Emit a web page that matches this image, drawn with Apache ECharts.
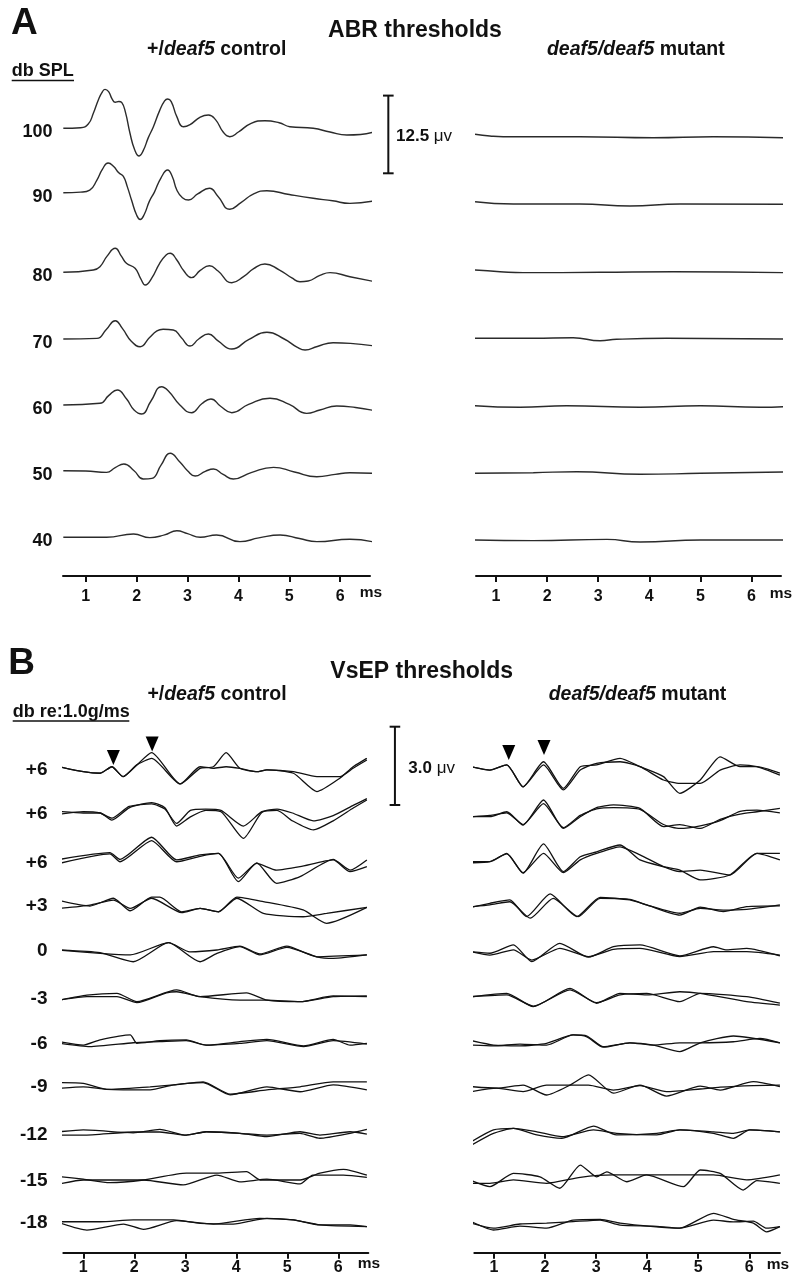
<!DOCTYPE html>
<html>
<head>
<meta charset="utf-8">
<script src="https://cdn.jsdelivr.net/npm/echarts@6/dist/echarts.min.js"></script>
<style>
html,body{margin:0;padding:0;background:#fff;}
#c{width:800px;height:1286px;}
</style>
</head>
<body>
<div id="c"></div>
<script>
// ---------------- DATA ----------------
const timeTicks = [1, 2, 3, 4, 5, 6];
const abrLevels = ['100', '90', '80', '70', '60', '50', '40'];
const vsepLevels = ['+6', '+6', '+6', '+3', '0', '-3', '-6', '-9', '-12', '-15', '-18'];
const abrScaleUv = 12.5;
const vsepScaleUv = 3.0;

// ABR control traces: [time ms, deflection µV]
const abrControl = [
  [[0.56,0],[0.9,0.1],[1.05,0.69],[1.15,2.41],[1.25,4.6],[1.33,5.9],[1.38,6.27],[1.45,5.9],[1.52,4.7],[1.58,4.18],[1.65,4.3],[1.71,4.12],[1.78,2.6],[1.87,-0.8],[1.96,-3.4],[2.05,-4.46],[2.13,-3.6],[2.23,-1.5],[2.33,0.26],[2.45,2.8],[2.55,4.4],[2.61,4.71],[2.68,4.3],[2.79,1.87],[2.92,0.26],[3.05,0.6],[3.25,1.8],[3.41,2.14],[3.55,1.4],[3.7,-0.6],[3.83,-1.35],[4.0,-0.6],[4.25,0.8],[4.52,1.22],[4.8,0.9],[5.01,0.26],[5.47,0],[5.8,-0.6],[6.13,-1.08],[6.4,-1.0],[6.68,-0.55]],
  [[0.56,0],[0.9,0.1],[1.08,0.43],[1.22,2.04],[1.33,3.8],[1.44,4.77],[1.55,4.2],[1.65,3.2],[1.74,2.61],[1.82,0.9],[1.9,-1.17],[2.0,-3.6],[2.07,-4.3],[2.15,-3.5],[2.25,-1.4],[2.35,0.1],[2.48,2.4],[2.61,3.64],[2.7,2.6],[2.79,0.43],[2.9,-0.8],[3.02,-1.18],[3.2,-0.2],[3.43,0.71],[3.6,-0.6],[3.83,-2.67],[4.05,-1.6],[4.3,-0.2],[4.56,0.32],[5.0,-0.3],[5.47,-0.9],[5.85,-1.3],[6.19,-1.72],[6.68,-1.29]],
  [[0.56,0],[1.15,0.37],[1.28,0.9],[1.42,2.6],[1.58,3.86],[1.7,2.6],[1.8,1.45],[1.97,0.64],[2.08,-1.0],[2.17,-2.04],[2.3,-0.9],[2.45,1.4],[2.58,2.8],[2.66,3.06],[2.78,2.1],[2.93,0.2],[3.08,-0.86],[3.25,0.3],[3.43,1.06],[3.6,0.2],[3.87,-1.67],[4.1,-0.7],[4.3,0.6],[4.52,1.34],[4.8,0.4],[5.05,-0.9],[5.21,-1.51],[5.37,-1.4],[5.6,-0.5],[5.8,-0.06],[6.19,-0.71],[6.68,-1.51]],
  [[0.56,0],[1.22,0.1],[1.4,1.5],[1.58,2.94],[1.72,1.7],[1.9,-0.4],[2.07,-1.24],[2.25,0.2],[2.4,1.3],[2.52,1.56],[2.72,1.45],[2.88,0.2],[3.05,-1.13],[3.22,0.0],[3.41,0.8],[3.6,-0.3],[3.87,-1.61],[4.2,-0.1],[4.56,1.08],[4.9,0.0],[5.15,-1.3],[5.31,-1.77],[5.55,-1.2],[5.86,-0.6],[6.2,-0.7],[6.68,-1.13]],
  [[0.56,0],[1.28,0.27],[1.45,1.5],[1.62,2.41],[1.8,1.0],[1.95,-0.8],[2.1,-1.45],[2.28,0.6],[2.49,2.94],[2.62,2.3],[2.85,0.0],[3.08,-1.24],[3.28,0.2],[3.46,0.97],[3.65,-0.2],[3.87,-1.24],[4.2,0.1],[4.62,1.08],[5.0,0.1],[5.34,-1.34],[5.6,-0.8],[5.93,-0.16],[6.3,-0.4],[6.68,-0.91]],
  [[0.56,0],[1.0,-0.05],[1.41,-0.27],[1.58,0.5],[1.75,1.08],[1.95,0.0],[2.13,-1.34],[2.3,-1.23],[2.48,0.9],[2.66,2.8],[2.85,1.4],[3.0,0.0],[3.15,-0.86],[3.35,-0.1],[3.51,0.27],[3.7,-0.6],[3.9,-1.34],[4.25,-0.3],[4.69,0.54],[5.1,-0.2],[5.54,-0.97],[5.9,-0.6],[6.19,-0.32],[6.68,-0.43]],
  [[0.56,0],[1.0,0],[1.41,0],[1.94,0.53],[2.26,-0.06],[2.55,0.4],[2.79,1.06],[3.0,0.6],[3.25,0],[3.57,0.37],[4.03,-0.7],[4.4,-0.1],[4.82,0.37],[5.2,-0.2],[5.54,-0.7],[6.19,-0.32],[6.68,-0.8]]
];

// ABR mutant traces
const abrMutant = [
  [[0.59,0],[0.88,-0.27],[1.14,-0.39],[2.64,-0.39],[4.08,-0.55],[5.25,-0.39],[6.62,-0.55]],
  [[0.59,0],[1.34,-0.37],[2.64,-0.37],[3.62,-0.69],[4.6,-0.37],[6.62,-0.42]],
  [[0.57,0],[1.08,-0.27],[1.53,-0.43],[3.04,-0.37],[4.47,-0.27],[6.66,-0.43]],
  [[0.57,0],[1.73,0],[2.51,0.1],[3.04,-0.39],[3.36,-0.16],[4.34,0],[6.66,-0.11]],
  [[0.57,0],[1.47,-0.26],[2.38,0],[3.82,-0.26],[5.0,0],[6.17,-0.26],[6.66,-0.16]],
  [[0.57,0],[1.73,0.1],[2.58,0.26],[3.82,-0.16],[5.0,0],[6.66,0.21]],
  [[0.57,0],[1.73,-0.1],[3.17,0.1],[3.82,-0.32],[5.0,0],[6.66,0]]
];

// VsEP control: two repeated traces per level [time ms, µV]
const vsepControl = [
  [[[0.53,0.06],[1.0,-0.13],[1.33,-0.19],[1.56,0.06],[1.78,-0.32],[2.05,0.13],[2.34,0.6],[2.9,-0.6],[3.29,0],[3.55,0.06],[3.8,0.6],[4.07,0],[4.4,-0.13],[4.6,-0.06],[5.12,-0.19],[5.58,-0.89],[6.03,-0.38],[6.29,0.06],[6.56,0.38]],
   [[0.53,0.06],[1.0,-0.13],[1.33,-0.19],[1.56,0.06],[1.78,-0.32],[2.05,0.13],[2.34,0.38],[2.9,-0.6],[3.29,0.06],[3.55,0],[3.8,0.06],[4.07,0],[4.4,-0.13],[4.6,-0.06],[5.12,-0.13],[5.58,-0.32],[6.03,-0.32],[6.29,0],[6.56,0.32]]],
  [[[0.53,0.06],[1.0,0],[1.33,0],[1.56,-0.27],[1.9,0.2],[2.34,0.4],[2.6,0.2],[2.83,-0.5],[3.1,-0.15],[3.4,0.1],[3.7,0.05],[4.14,-0.97],[4.5,0.02],[4.8,0.1],[5.1,-0.3],[5.51,-0.65],[5.9,-0.3],[6.3,0.2],[6.56,0.5]],
   [[0.53,-0.05],[1.0,0.05],[1.33,0],[1.56,-0.2],[1.9,0.25],[2.34,0.35],[2.6,0.15],[2.83,-0.4],[3.1,0.1],[3.4,0.15],[3.7,0.1],[4.14,-0.5],[4.5,0.05],[4.8,0.15],[5.1,0],[5.51,-0.3],[5.9,-0.1],[6.3,0.3],[6.56,0.55]]],
  [[[0.53,0.08],[1.52,0.34],[1.72,0.08],[2.34,0.93],[2.83,0.06],[3.29,0.25],[3.65,0.31],[4.04,-0.77],[4.4,-0.05],[4.79,-0.84],[5.25,-0.58],[5.9,0.08],[6.23,-0.33],[6.56,0.06]],
   [[0.53,-0.07],[1.52,0.29],[1.72,-0.01],[2.34,0.8],[2.83,-0.01],[3.29,0.2],[3.65,0.31],[4.04,-0.64],[4.4,-0.07],[4.79,-0.33],[5.25,-0.2],[5.9,0.06],[6.23,-0.39],[6.56,-0.2]]],
  [[[0.53,0.15],[1.13,-0.06],[1.59,0.24],[1.92,-0.24],[2.34,0.28],[2.5,0.28],[2.93,-0.28],[3.29,-0.15],[3.65,-0.28],[4.01,0.28],[4.53,0.11],[5.31,-0.21],[5.77,-0.72],[6.56,-0.11]],
   [[0.53,-0.15],[1.13,-0.02],[1.59,0.17],[1.92,-0.15],[2.34,0.24],[2.93,-0.31],[3.29,-0.15],[3.65,-0.28],[4.01,0.24],[4.53,-0.34],[5.31,-0.47],[5.77,-0.34],[6.56,-0.11]]],
  [[[0.53,0],[1.33,-0.13],[1.92,-0.19],[2.67,0.28],[3.09,-0.07],[3.62,0],[4.07,0.15],[4.46,-0.15],[4.99,0.15],[5.58,-0.26],[6.56,-0.19]],
   [[0.53,0],[1.33,-0.1],[1.98,-0.45],[2.67,0.28],[3.29,-0.45],[3.62,-0.13],[4.07,0.13],[4.46,-0.19],[4.99,0.1],[5.58,-0.26],[5.9,-0.32],[6.56,-0.19]]],
  [[[0.53,-0.08],[1.07,0.11],[1.66,0.18],[2.05,-0.14],[2.83,0.31],[3.29,0.05],[4.2,0.2],[4.6,-0.08],[5.25,-0.14],[5.9,0.08],[6.56,0.05]],
   [[0.53,-0.08],[1.07,0.05],[1.66,0.05],[2.05,-0.18],[2.63,0.2],[2.83,0.24],[3.29,0.05],[4.07,-0.08],[4.6,-0.08],[5.25,-0.14],[5.9,0.05],[6.56,0.08]]],
  [[[0.53,0.03],[1.0,-0.1],[1.33,0.1],[1.92,0.29],[2.05,-0.03],[2.5,0.07],[3.02,0.1],[3.41,-0.1],[4.07,0.03],[4.6,0.12],[5.32,-0.13],[5.9,0.12],[6.23,-0.1],[6.56,-0.03]],
   [[0.53,-0.03],[1.13,-0.16],[1.98,-0.01],[2.5,0.03],[3.02,0.07],[3.41,-0.1],[4.07,-0.03],[4.6,0.07],[5.32,-0.16],[5.9,0.07],[6.56,-0.06]]],
  [[[0.53,0.13],[1.0,0.1],[1.46,-0.13],[2.31,-0.03],[2.77,0.04],[3.35,0.16],[3.88,-0.31],[4.6,-0.15],[5.25,-0.03],[5.9,0.16],[6.56,0.16]],
   [[0.53,-0.09],[1.0,-0.03],[1.46,-0.13],[2.31,-0.15],[2.77,0.04],[3.35,0.13],[3.88,-0.34],[4.6,-0.03],[5.25,-0.22],[5.9,0.04],[6.56,-0.15]]],
  [[[0.53,0.06],[1.0,0.13],[1.98,0.02],[2.5,0.15],[3.02,-0.07],[3.41,0.06],[4.07,0],[4.6,-0.07],[5.25,0],[5.64,-0.19],[6.23,0],[6.56,0.15]],
   [[0.53,-0.07],[1.0,-0.07],[1.98,0.05],[2.5,0.05],[3.02,-0.07],[3.41,0.06],[4.07,0],[4.6,-0.13],[5.25,0.06],[5.64,-0.07],[6.23,0.06],[6.56,-0.03]]],
  [[[0.53,0.13],[1.0,0.03],[1.52,-0.1],[2.18,0],[3.02,0.26],[3.62,0.26],[4.2,0.32],[4.47,0],[5.25,0],[5.64,0.26],[6.1,0.41],[6.56,0.19]],
   [[0.53,-0.15],[1.0,0],[1.52,0],[2.18,0],[2.96,-0.19],[3.62,0.19],[4.07,-0.07],[4.6,0.03],[5.25,-0.15],[5.5,0.19],[6.1,0.19],[6.56,0.1]]],
  [[[0.53,0.01],[1.33,0.01],[1.98,0.08],[2.77,0.08],[3.29,-0.05],[3.94,-0.08],[4.6,0.14],[5.12,0.08],[5.64,-0.11],[6.56,-0.18]],
   [[0.53,-0.03],[1.07,-0.31],[1.79,-0.08],[2.18,-0.28],[2.83,0.05],[3.55,-0.08],[4.46,0.14],[5.12,0.08],[5.64,-0.11],[6.23,-0.11],[6.56,-0.18]]]
];

// VsEP mutant: two repeated traces per level
const vsepMutant = [
  [[[0.56,0],[0.92,-0.13],[1.25,0.07],[1.57,-0.77],[1.97,0.19],[2.36,-0.83],[2.69,0],[3.01,0.07],[3.47,0.32],[3.86,0],[4.32,-0.38],[4.64,-1.02],[5.04,-0.51],[5.43,0.38],[5.82,0],[6.15,0],[6.6,-0.25]],
   [[0.56,0],[0.92,-0.13],[1.25,0.07],[1.57,-0.77],[1.97,0.07],[2.36,-0.89],[2.69,-0.13],[3.01,0.13],[3.47,0.19],[3.86,0],[4.32,-0.51],[4.64,-0.64],[5.04,-0.64],[5.43,-0.13],[5.82,0.07],[6.15,0],[6.6,-0.32]]],
  [[[0.56,0],[0.92,0],[1.25,0.19],[1.57,-0.32],[1.97,0.64],[2.36,-0.45],[2.69,0],[3.01,0.35],[3.34,0.45],[3.86,0.32],[4.32,-0.38],[4.64,-0.3],[5.04,-0.45],[5.43,-0.1],[5.82,0.1],[6.15,0.19],[6.6,0.32]],
   [[0.56,0],[0.92,0.05],[1.25,0.15],[1.57,-0.3],[1.97,0.5],[2.36,-0.42],[2.69,0.05],[3.01,0.3],[3.34,0.35],[3.86,0.28],[4.32,-0.3],[4.64,-0.45],[5.04,-0.35],[5.43,-0.15],[5.82,0.2],[6.15,0.25],[6.6,0.15]]],
  [[[0.56,0],[0.92,0],[1.25,0.32],[1.57,-0.44],[1.97,0.68],[2.36,-0.38],[2.69,0.19],[3.01,0.38],[3.47,0.64],[3.86,0.07],[4.32,-0.19],[4.64,-0.32],[5.04,-0.7],[5.62,-0.51],[6.15,0.32],[6.6,0.07]],
   [[0.56,-0.04],[0.92,0],[1.25,0.3],[1.57,-0.42],[1.97,0.32],[2.36,-0.42],[2.69,0.07],[3.01,0.32],[3.47,0.57],[3.86,0.26],[4.32,-0.19],[4.64,-0.38],[5.04,-0.32],[5.62,-0.51],[6.15,0.32],[6.6,0.32]]],
  [[[0.56,-0.02],[0.92,0.13],[1.31,0.26],[1.64,-0.38],[2.1,0.49],[2.62,-0.38],[3.08,0.36],[3.66,0.26],[3.99,0.07],[4.64,-0.32],[5.04,-0.02],[5.49,-0.19],[5.95,0],[6.6,0.03]],
   [[0.56,0],[0.92,0.07],[1.31,0.19],[1.71,-0.44],[2.16,0.32],[2.65,-0.38],[3.08,0.32],[3.66,0.28],[3.99,0.07],[4.64,-0.25],[5.04,-0.06],[5.49,-0.13],[5.95,-0.1],[6.6,0.07]]],
  [[[0.56,0],[0.92,-0.06],[1.38,0.26],[1.74,-0.38],[2.29,0.32],[2.85,-0.21],[3.34,0.19],[3.86,0.26],[4.64,-0.16],[5.3,0.19],[5.56,0.07],[5.95,0.13],[6.6,-0.16]],
   [[0.56,0],[0.92,-0.13],[1.38,0.07],[1.74,-0.32],[2.29,0.13],[2.85,-0.19],[3.34,0.09],[3.86,0.13],[4.64,-0.19],[5.3,0],[5.95,0],[6.6,-0.13]]],
  [[[0.56,0],[1.25,0.13],[1.77,-0.38],[2.49,0.32],[3.01,-0.25],[3.47,0.13],[3.99,0.07],[4.64,0.19],[5.04,0.13],[5.95,-0.19],[6.6,-0.32]],
   [[0.56,0],[1.25,0.07],[1.77,-0.36],[2.49,0.26],[3.01,-0.23],[3.47,0.07],[3.99,0.13],[4.64,-0.19],[5.04,0.13],[5.95,0],[6.6,-0.25]]],
  [[[0.56,0.1],[0.99,-0.07],[1.51,-0.1],[2.03,0],[2.55,0.32],[2.82,0.28],[3.14,-0.13],[3.66,0.02],[4.12,-0.07],[4.64,-0.32],[5.04,0.02],[5.69,0.28],[6.6,0.02]],
   [[0.56,-0.07],[0.99,-0.1],[1.51,-0.03],[2.03,-0.07],[2.55,0.32],[2.82,0.25],[3.14,-0.15],[3.66,0.02],[4.12,-0.07],[4.64,0.02],[5.04,0.02],[5.69,0.06],[6.21,0.19],[6.6,0.02]]],
  [[[0.56,0.09],[1.05,0.03],[1.57,0.15],[2.03,-0.23],[2.49,0.15],[2.85,0.54],[3.34,-0.16],[3.86,0.15],[4.38,-0.27],[5.04,0.11],[5.43,-0.04],[6.08,0.28],[6.6,0.09]],
   [[0.56,-0.1],[1.05,0.03],[1.57,-0.1],[2.03,0.15],[2.49,0.15],[2.85,0.15],[3.34,-0.04],[3.86,0.13],[4.38,-0.1],[5.04,0],[5.43,0.07],[6.08,0.13],[6.6,0.15]]],
  [[[0.56,0.05],[0.99,0.5],[1.38,0.56],[1.84,0.31],[2.33,0.18],[2.95,0.65],[3.4,0.31],[4.19,0.37],[4.64,0.5],[5.3,0.37],[5.69,0.18],[6.01,0.5],[6.6,0.43]],
   [[0.56,-0.08],[0.99,0.37],[1.38,0.56],[1.84,0.43],[2.33,0.24],[2.95,0.5],[3.4,0.37],[4.19,0.31],[4.64,0.5],[5.3,0.43],[5.69,0.37],[6.01,0.5],[6.6,0.43]]],
  [[[0.56,0.05],[0.92,-0.18],[1.38,0.33],[1.9,0.2],[2.29,-0.24],[2.69,0.65],[3.01,0.2],[3.21,0.39],[3.6,0.01],[3.99,0.27],[4.71,-0.18],[5.04,0.46],[5.43,0.33],[5.88,-0.31],[6.15,0.05],[6.6,-0.05]],
   [[0.56,-0.05],[0.92,-0.05],[1.38,0.08],[2.03,-0.05],[2.69,0.18],[3.34,0.27],[3.99,0.27],[4.64,0.27],[5.3,0.27],[5.95,0.08],[6.6,0.27]]],
  [[[0.56,0.09],[0.99,-0.23],[1.51,-0.08],[2.03,-0.16],[2.55,0.15],[3.08,0.18],[3.47,0.03],[4.12,-0.1],[4.64,-0.16],[5.3,0.41],[5.69,0.18],[6.08,0.03],[6.34,-0.3],[6.6,-0.1]],
   [[0.56,0.03],[0.99,-0.16],[1.51,0],[2.03,0.03],[2.55,0.09],[3.08,0.15],[3.47,-0.04],[4.12,-0.08],[4.64,-0.16],[5.3,0.15],[5.69,0.08],[6.08,0.11],[6.34,-0.16],[6.6,-0.1]]]
];

// arrowheads over the top VsEP trace: [time ms, µV above trace baseline]
const arrowsControl = [[1.59, 0.13], [2.35, 0.64]];
const arrowsMutant = [[1.29, 0.26], [1.98, 0.45]];

// ---------------- LAYOUT ----------------
const FONT = '"Liberation Sans", Arial, Helvetica, sans-serif';
const PANEL = {
  abr:  { axisY: 576,    top: 80,  pxPerUv: 6.216, labelMargin: 12.5 },
  vsep: { axisY: 1252.7, top: 715, pxPerUv: 26.1,  labelMargin: 6.5 }
};
const PLOTS = [
  { panel: 'abr',  left: 63,    right: 370,   xMin: 0.554, xMax: 6.585, bases: [128.3,192.7,272.3,339,405,470.7,537.3] },
  { panel: 'abr',  left: 476,   right: 781,   xMin: 0.609, xMax: 6.577, bases: [134.3,201.7,270,338.3,405.7,473.3,540] },
  { panel: 'vsep', left: 63.3,  right: 368.3, xMin: 0.608, xMax: 6.588, bases: [768.3,813,861.5,904.5,950,998,1042.5,1086,1133.3,1180,1222] },
  { panel: 'vsep', left: 474.3, right: 780,   xMin: 0.615, xMax: 6.602, bases: [766.7,816.7,861.7,906.7,951.7,996.7,1043.3,1089,1143,1182,1224] }
];

const chart = echarts.init(document.getElementById('c'), null, { renderer: 'canvas' });
const grids = [], xAxes = [], yAxes = [], series = [];

PLOTS.forEach((p, i) => {
  const P = PANEL[p.panel];
  grids.push({ left: p.left, top: P.top, width: p.right - p.left, height: P.axisY - P.top, containLabel: false });
  xAxes.push({
    type: 'value', gridIndex: i, min: p.xMin, max: p.xMax,
    axisLine: { onZero: false, lineStyle: { color: '#111', width: 2 } },
    axisTick: { customValues: timeTicks, length: 6, lineStyle: { color: '#111', width: 2 } },
    axisLabel: { customValues: timeTicks, margin: P.labelMargin, fontSize: 16, fontWeight: 'bold', color: '#111', fontFamily: FONT },
    splitLine: { show: false }
  });
  yAxes.push({ type: 'value', gridIndex: i, min: 0, max: (P.axisY - P.top) / P.pxPerUv, show: false });
});

function offsetOf(plotIdx, k) {
  const p = PLOTS[plotIdx], P = PANEL[p.panel];
  return (P.axisY - p.bases[k]) / P.pxPerUv;
}
function addTrace(plotIdx, k, pts, style) {
  const off = offsetOf(plotIdx, k);
  series.push({
    type: 'line', xAxisIndex: plotIdx, yAxisIndex: plotIdx,
    data: pts.map(d => [d[0], off + d[1]]),
    showSymbol: false, symbol: 'none', clip: false, silent: true,
    smooth: style.smooth, lineStyle: { color: style.color, width: style.width }
  });
}
const abrStyle = { color: '#2b2b2b', width: 1.4, smooth: 0.5 };
const vsepStyle = { color: '#111', width: 1.3, smooth: 0.2 };

abrControl.forEach((tr, k) => addTrace(0, k, tr, abrStyle));
abrMutant.forEach((tr, k) => addTrace(1, k, tr, abrStyle));
vsepControl.forEach((pair, k) => pair.forEach(tr => addTrace(2, k, tr, vsepStyle)));
vsepMutant.forEach((pair, k) => pair.forEach(tr => addTrace(3, k, tr, vsepStyle)));

// arrowheads
[[2, arrowsControl], [3, arrowsMutant]].forEach(([pi, arr]) => {
  const off = offsetOf(pi, 0);
  series.push({
    type: 'scatter', xAxisIndex: pi, yAxisIndex: pi, silent: true, clip: false,
    symbol: 'triangle', symbolRotate: 180, symbolSize: [13, 15], symbolOffset: [0, -7.5],
    itemStyle: { color: '#000', opacity: 1 },
    data: arr.map(d => [d[0], off + d[1]])
  });
});

chart.setOption({
  animation: false,
  backgroundColor: '#fff',
  textStyle: { fontFamily: FONT },
  grid: grids, xAxis: xAxes, yAxis: yAxes, series: series
});

// ---------------- TEXT & SCALE BARS ----------------
const g = [];
function txt(x, y, text, size, opts) {
  opts = opts || {};
  g.push({
    type: 'text', x: x, y: y, silent: true,
    style: Object.assign({
      text: text, fontFamily: FONT, fontSize: size, fontWeight: opts.weight || 'bold',
      fill: '#111', align: opts.align || 'left', verticalAlign: 'middle'
    }, opts.rich ? { rich: opts.rich } : {})
  });
}
function richStyles(size) {
  return {
    n: { fontFamily: FONT, fontSize: size, fontWeight: 'bold', fill: '#111' },
    i: { fontFamily: FONT, fontSize: size, fontWeight: 'bold', fontStyle: 'italic', fill: '#111' },
    r: { fontFamily: FONT, fontSize: size, fontWeight: 'normal', fill: '#111' }
  };
}
function seg(x1, y1, x2, y2, w) {
  g.push({ type: 'line', silent: true, shape: { x1: x1, y1: y1, x2: x2, y2: y2 }, style: { stroke: '#111', lineWidth: w } });
}
// scale bar: vertical bar of `uv` microvolts mapped through the plot's y scale
function scaleBar(plotIdx, tCenter, bottomPx, uv) {
  const P = PANEL[PLOTS[plotIdx].panel];
  const y0 = (P.axisY - bottomPx) / P.pxPerUv;
  const a = chart.convertToPixel({ gridIndex: plotIdx }, [tCenter, y0]);
  const b = chart.convertToPixel({ gridIndex: plotIdx }, [tCenter, y0 + uv]);
  const hw = 5.3;
  seg(a[0], a[1], b[0], b[1], 2);
  seg(a[0] - hw, a[1], a[0] + hw, a[1], 2);
  seg(b[0] - hw, b[1], b[0] + hw, b[1], 2);
}
scaleBar(0, 6.945, 173.3, abrScaleUv);
scaleBar(2, 7.11, 805, vsepScaleUv);

// Panel A
txt(11, 23.5, 'A', 37);
txt(415, 31, 'ABR thresholds', 23, { align: 'center' });
txt(216.7, 50, '{n|+/}{i|deaf5}{n| control}', 19.5, { align: 'center', rich: richStyles(19.5) });
txt(635.8, 50, '{i|deaf5/deaf5}{n| mutant}', 19.5, { align: 'center', rich: richStyles(19.5) });
txt(11.7, 71.5, 'db SPL', 18);
seg(11.7, 80.5, 74, 80.5, 1.6);
txt(396, 136.7, '{n|12.5 }{r|\u03bcv}', 17, { rich: richStyles(17) });
abrLevels.forEach((lab, k) => txt(52.5, PLOTS[0].bases[k] + 4, lab, 18, { align: 'right' }));
txt(371, 593, 'ms', 15.5, { align: 'center' });
txt(781, 594, 'ms', 15.5, { align: 'center' });

// Panel B
txt(8.3, 664.2, 'B', 37);
txt(421.7, 671.7, 'VsEP thresholds', 23, { align: 'center' });
txt(217, 694.2, '{n|+/}{i|deaf5}{n| control}', 19.5, { align: 'center', rich: richStyles(19.5) });
txt(637.5, 694.2, '{i|deaf5/deaf5}{n| mutant}', 19.5, { align: 'center', rich: richStyles(19.5) });
txt(12.7, 712.5, 'db re:1.0g/ms', 18);
seg(12.7, 721, 129.3, 721, 1.6);
txt(408.3, 768.3, '{n|3.0 }{r|\u03bcv}', 17, { rich: richStyles(17) });
vsepLevels.forEach((lab, k) => txt(47.5, PLOTS[2].bases[k] + 1, lab, 19, { align: 'right' }));
txt(369, 1264, 'ms', 15.5, { align: 'center' });
txt(778, 1265, 'ms', 15.5, { align: 'center' });

chart.setOption({ graphic: { elements: g } });
</script>
</body>
</html>
